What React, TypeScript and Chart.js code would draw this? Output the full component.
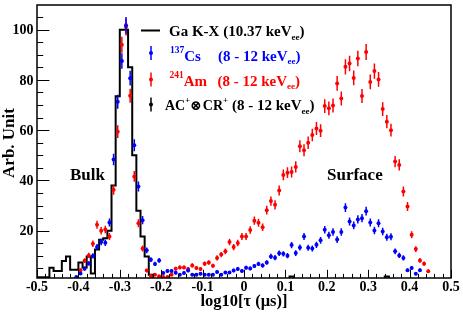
import React, { useEffect, useRef } from 'react';
import { Chart, registerables } from 'chart.js';

Chart.register(...registerables);

// ---- binning (log10 tau, 100 bins from -0.5 to 0.5) ----
const BIN_LOW = -0.5;
const BIN_WIDTH = 0.01;

// Ga K-X (10.37 keVee) histogram, one value per bin
const gaKxHist = [
  1.5, 1.5, 1.5, 5.3, 4, 4, 8, 9.8, 4.5, 4.5,
  7.4, 5.4, 9.8, 3, 12.5, 16.4, 17, 20, 38, 73.5,
  100, 100, 85, 50, 28, 17.7, 9.8, 2.5, 0, 0,
  0, 0, 0, 0, 0, 0, 0, 0, 0, 0,
  0, 0, 0, 0, 0, 0, 0, 0, 0, 0,
  0, 0, 0, 0, 0, 0, 0, 0, 0, 0,
  0, 1.8, 0, 0, 0, 0, 0, 0, 0, 0,
  0, 0, 0, 0, 0, 0, 0, 0, 0, 0,
  0, 0, 0, 0, 1.8, 0, 0, 0, 0, 0,
  0, 0, 0, 0, 0, 0, 0, 0, 0, 0,
];

// 137Cs (8 - 12 keVee), bins 9..92
const csFirstBin = 9;
const csValues = [
  1.6, 3, 4.9, 7, 10, 13.5, 15.5, 15.2, 23.3, 48.3,
  71.3, 87.5, 101.7, 80.7, 54, 37.6, 24.2, 12.2, 8.5, 6.8,
  8.2, 3.2, 4, 4, 3.3, 2.5, 3.2, 4.2, 2.5, 2.5,
  2.9, 2.5, 2.5, 2.5, 3.6, 2.5, 3.4, 3.4, 4.2, 4.8,
  4, 5.3, 5, 6, 6.8, 6.2, 7.4, 9.8, 9.3, 11,
  10.8, 10.1, 14.3, 11.1, 13.3, 17.7, 13.2, 12.9, 14.4, 16.2,
  20.4, 18.2, 19.5, 16.5, 19.5, 29.2, 23.7, 22.1, 24.5, 25,
  27.8, 23.3, 20.1, 23, 19.7, 17.4, 17.6, 11.8, 10.2, 9.2,
  4.3, 5.2, 2.9, 4.3,
];

// 241Am (8 - 12 keVee), bins 10..94
const amFirstBin = 10;
const amValues = [
  4.3, 8.1, 10.2, 14.8, 22.4, 20, 20.5, 17.7, 36.3, 59.4,
  94, 101, 73.7, 41.6, 23, 12.9, 4.2, 2, 2.5, 1.9,
  1.6, 1.6, 2.5, 4.9, 5.4, 5.4, 4.8, 6.2, 5.2, 4.8,
  6.9, 7.4, 6.1, 9.2, 10.5, 11.8, 15.5, 13.5, 15.1, 17.7,
  17.7, 20.3, 24, 23.2, 21.4, 28.2, 31.8, 30.3, 36, 42.2,
  43.1, 43.4, 45.4, 53.6, 52, 55, 58.1, 60.7, 59.8, 69.6,
  68.7, 69.8, 78.6, 72.6, 85.2, 86.5, 80.8, 88.5, 73.6, 91.1,
  79.2, 83.5, 80.2, 68.4, 63.4, 60, 47.5, 46.2, 35.6, 29.6,
  18.4, 12.7, 8.2, 6.9, 3.9,
];

// AC+ x CR+ (8 - 12 keVee): no visible points above the frame minimum
const acCrValues: number[] = [];

// axes
const X_MIN = -0.5;
const X_MAX = 0.5;
const Y_MIN = 1.2;
const Y_MAX = 109.8;
const xMajorTicks = [-0.5, -0.4, -0.3, -0.2, -0.1, 0, 0.1, 0.2, 0.3, 0.4, 0.5];
const xTickLabels = ['-0.5', '-0.4', '-0.3', '-0.2', '-0.1', '0', '0.1', '0.2', '0.3', '0.4', '0.5'];
const xMinorStep = 0.02;
const yMajorTicks = [20, 40, 60, 80, 100];
const yTickLabels = ['20', '40', '60', '80', '100'];
const yMinorStep = 5;

const ERR_SCALE = 0.33;
const BLUE = '#0000ff';
const RED = '#ff0000';
const BLACK = '#000000';
const FONT_FAMILY = '"Liberation Serif", "Times New Roman", serif';
const f = (size: number) => `bold ${size}px ${FONT_FAMILY}`;

const binCenter = (i: number) => BIN_LOW + (i + 0.5) * BIN_WIDTH;

const toPoints = (first: number, vals: number[]) =>
  vals.map((v, k) => ({ x: binCenter(first + k), y: v }));

const histPoints = gaKxHist.map((v, i) => ({ x: BIN_LOW + i * BIN_WIDTH, y: v }));
histPoints.push({ x: BIN_LOW + gaKxHist.length * BIN_WIDTH, y: gaKxHist[gaKxHist.length - 1] });

type Part = { text: string; size: number; dy?: number; color?: string };
function rich(ctx: CanvasRenderingContext2D, x: number, base: number, parts: Part[], color: string) {
  for (const p of parts) {
    ctx.font = f(p.size);
    ctx.fillStyle = p.color || color;
    ctx.fillText(p.text, x, base + (p.dy || 0));
    x += ctx.measureText(p.text).width;
  }
  return x;
}

const errorBarPlugin = {
  id: 'errorBars',
  beforeDatasetDraw(chart: any, args: any) {
    const ds = chart.data.datasets[args.index];
    if (!ds.errScale) return;
    const ys = chart.scales.y;
    const area = chart.chartArea;
    const ctx = chart.ctx as CanvasRenderingContext2D;
    ctx.save();
    ctx.beginPath();
    ctx.rect(area.left, area.top, area.right - area.left, area.bottom - area.top);
    ctx.clip();
    ctx.strokeStyle = ds.borderColor;
    ctx.lineWidth = 1.5;
    ctx.beginPath();
    args.meta.data.forEach((el: any, i: number) => {
      const v = ds.data[i].y;
      const e = ds.errScale * Math.sqrt(v);
      ctx.moveTo(el.x, ys.getPixelForValue(v - e));
      ctx.lineTo(el.x, ys.getPixelForValue(v + e));
    });
    ctx.stroke();
    ctx.restore();
  },
};

const decorPlugin = {
  id: 'decor',
  afterDraw(chart: any) {
    const ctx = chart.ctx as CanvasRenderingContext2D;
    const a = chart.chartArea;
    const xs = chart.scales.x;
    const ys = chart.scales.y;
    ctx.save();
    // frame
    ctx.strokeStyle = BLACK;
    ctx.lineWidth = 1.5;
    ctx.strokeRect(a.left, a.top, a.right - a.left, a.bottom - a.top);

    // ticks
    ctx.lineWidth = 1;
    ctx.beginPath();
    const xMajLen = 0.03 * (a.bottom - a.top);
    const yMajLen = 0.03 * (a.right - a.left);
    for (let v = X_MIN; v <= X_MAX + 1e-9; v += xMinorStep) {
      const isMajor = xMajorTicks.some((t) => Math.abs(t - v) < 1e-6);
      const px = Math.round(xs.getPixelForValue(v)) + 0.5;
      ctx.moveTo(px, a.bottom);
      ctx.lineTo(px, a.bottom - (isMajor ? xMajLen : xMajLen / 2));
    }
    for (let v = yMinorStep; v <= Y_MAX; v += yMinorStep) {
      if (v < Y_MIN) continue;
      const isMajor = yMajorTicks.includes(v);
      const py = Math.round(ys.getPixelForValue(v)) + 0.5;
      ctx.moveTo(a.left, py);
      ctx.lineTo(a.left + (isMajor ? yMajLen : yMajLen / 2), py);
    }
    ctx.stroke();

    // tick labels
    ctx.fillStyle = BLACK;
    ctx.font = f(14);
    ctx.textAlign = 'center';
    ctx.textBaseline = 'alphabetic';
    xMajorTicks.forEach((t, i) => {
      ctx.fillText(xTickLabels[i], xs.getPixelForValue(t), 291);
    });
    ctx.textAlign = 'right';
    yMajorTicks.forEach((t, i) => {
      ctx.fillText(yTickLabels[i], 33.5, ys.getPixelForValue(t) + 4.7);
    });

    // axis titles
    ctx.font = f(16.5);
    ctx.textAlign = 'center';
    ctx.fillText('log10[\u03c4 (\u03bcs)]', 244, 306);
    ctx.save();
    ctx.translate(14, 143);
    ctx.rotate(-Math.PI / 2);
    ctx.font = f(17);
    ctx.fillText('Arb. Unit', 0, 0);
    ctx.restore();

    // region labels
    ctx.textAlign = 'left';
    ctx.font = f(17);
    ctx.fillText('Bulk', 70, 180);
    ctx.fillText('Surface', 327, 180);

    // legend
    const markerX = 151;
    ctx.strokeStyle = BLACK;
    ctx.lineWidth = 2;
    ctx.beginPath();
    ctx.moveTo(141, 30.5);
    ctx.lineTo(160, 30.5);
    ctx.stroke();
    const marker = (y: number, color: string) => {
      ctx.strokeStyle = color;
      ctx.fillStyle = color;
      ctx.lineWidth = 1.5;
      ctx.beginPath();
      ctx.moveTo(markerX, y - 7);
      ctx.lineTo(markerX, y + 7);
      ctx.stroke();
      ctx.beginPath();
      ctx.arc(markerX, y, 2, 0, Math.PI * 2);
      ctx.fill();
    };
    marker(53, BLUE);
    marker(79.5, RED);
    marker(104.5, BLACK);

    rich(ctx, 169, 36, [
      { text: 'Ga K-X (10.37 keV', size: 15 },
      { text: 'ee', size: 9, dy: 3.5 },
      { text: ')', size: 15 },
    ], BLACK);

    rich(ctx, 170, 60.5, [
      { text: '137', size: 9.5, dy: -8 },
      { text: 'Cs', size: 15 },
    ], BLUE);
    rich(ctx, 218, 60.5, [
      { text: '(8 - 12 keV', size: 15 },
      { text: 'ee', size: 9, dy: 3.5 },
      { text: ')', size: 15 },
    ], BLUE);

    rich(ctx, 169.5, 85.5, [
      { text: '241', size: 9.5, dy: -8 },
      { text: 'Am', size: 15 },
    ], RED);
    rich(ctx, 217.5, 85.5, [
      { text: '(8 - 12 keV', size: 15 },
      { text: 'ee', size: 9, dy: 3.5 },
      { text: ')', size: 15 },
    ], RED);

    let x4 = rich(ctx, 165, 110, [
      { text: 'AC', size: 14 },
      { text: '+', size: 8.5, dy: -7 },
    ], BLACK);
    ctx.font = `bold 14px "DejaVu Serif", serif`;
    ctx.fillStyle = BLACK;
    ctx.fillText('\u2297', x4, 110);
    x4 += ctx.measureText('\u2297').width;
    rich(ctx, x4 + 1, 110, [
      { text: 'CR', size: 14 },
      { text: '+', size: 8.5, dy: -7 },
    ], BLACK);
    rich(ctx, 232, 110, [
      { text: '(8 - 12 keV', size: 15 },
      { text: 'ee', size: 9, dy: 3.5 },
      { text: ')', size: 15 },
    ], BLACK);

    ctx.restore();
  },
};

export default function App() {
  const ref = useRef<HTMLCanvasElement>(null);
  useEffect(() => {
    document.body.style.margin = '0';
    const chart = new Chart(ref.current as HTMLCanvasElement, {
      type: 'scatter',
      data: {
        datasets: [
          {
            label: 'AC+ x CR+',
            data: toPoints(0, acCrValues),
            backgroundColor: BLACK,
            borderColor: BLACK,
            pointRadius: 2,
            borderWidth: 0,
            order: 0,
            errScale: ERR_SCALE,
          } as any,
          {
            label: '137Cs',
            data: toPoints(csFirstBin, csValues),
            backgroundColor: BLUE,
            borderColor: BLUE,
            pointRadius: 2,
            borderWidth: 0,
            order: 1,
            errScale: ERR_SCALE,
          } as any,
          {
            label: '241Am',
            data: toPoints(amFirstBin, amValues),
            backgroundColor: RED,
            borderColor: RED,
            pointRadius: 2,
            borderWidth: 0,
            order: 2,
            errScale: ERR_SCALE,
          } as any,
          {
            label: 'Ga K-X',
            data: histPoints,
            showLine: true,
            stepped: 'before',
            borderColor: BLACK,
            backgroundColor: BLACK,
            borderWidth: 2,
            pointRadius: 0,
            fill: false,
            order: 3,
          } as any,
        ],
      },
      options: {
        animation: false,
        responsive: false,
        maintainAspectRatio: false,
        layout: { padding: { left: 37, right: 12, top: 5, bottom: 34 } },
        plugins: { legend: { display: false }, tooltip: { enabled: false } },
        scales: {
          x: { type: 'linear', min: X_MIN, max: X_MAX, display: false },
          y: { type: 'linear', min: Y_MIN, max: Y_MAX, display: false },
        },
      },
      plugins: [errorBarPlugin, decorPlugin],
    });
    return () => chart.destroy();
  }, []);
  return (
    <div style={{ width: 463, height: 312, background: '#ffffff' }}>
      <canvas ref={ref} width={463} height={312} style={{ display: 'block', width: 463, height: 312 }} />
    </div>
  );
}
